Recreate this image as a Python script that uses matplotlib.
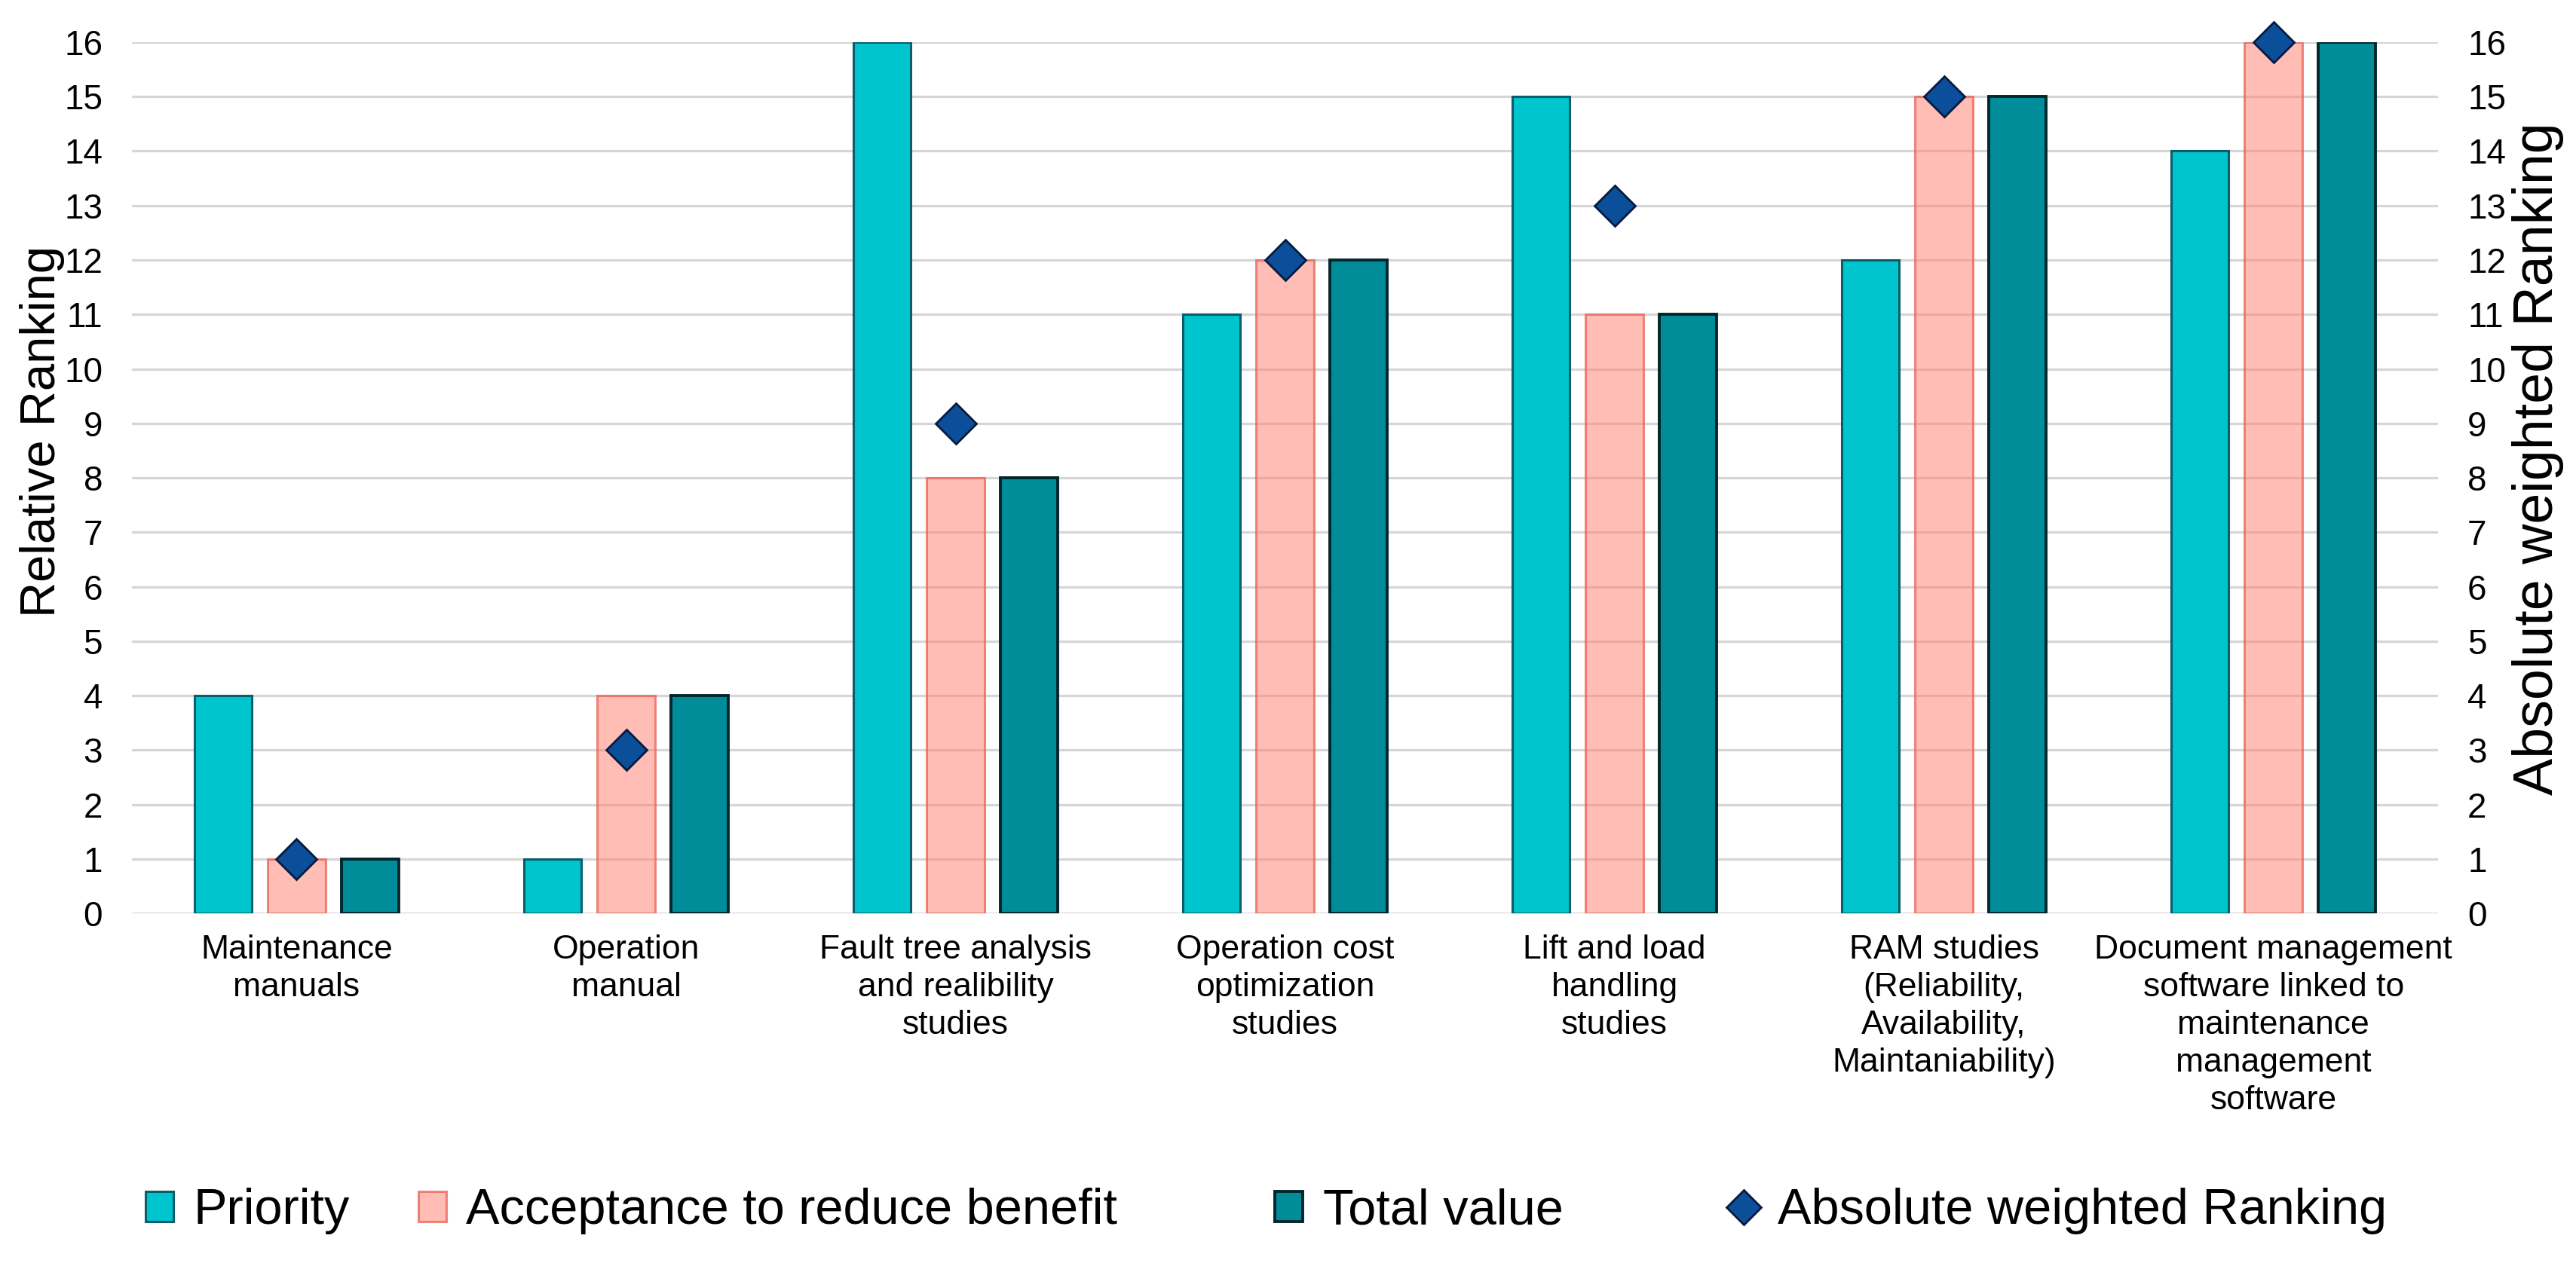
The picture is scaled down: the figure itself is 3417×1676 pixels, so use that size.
import matplotlib
matplotlib.use('Agg')
import matplotlib.pyplot as plt
import numpy as np

plt.rcParams['font.family'] = ['Liberation Sans', 'DejaVu Sans']

categorias = ['Maintenance\nmanuals',
              'Operation\nmanual',
              'Fault tree analysis\nand realibility\nstudies',
              'Operation cost\noptimization\nstudies',
              'Lift and load\nhandling\nstudies',
              'RAM studies\n(Reliability,\nAvailability,\nMaintaniability)',
              'Document management\nsoftware linked to\nmaintenance\nmanagement\nsoftware']

priority = [4, 1, 16, 11, 15, 12, 14]
acceptance = [1, 4, 8, 12, 11, 15, 16]
total_value = [1, 4, 8, 12, 11, 15, 16]
absolute_ranking = [1, 3, 9, 12, 13, 15, 16]

niveles = list(range(0, 17))

x = np.arange(len(categorias))
ancho = 0.175
paso = 0.223

fig = plt.figure(figsize=(34.17, 16.76), dpi=100)
ax = fig.add_axes([0.0512, 0.2768, 0.8953, 0.6898])

ax.set_axisbelow(True)
ax.yaxis.grid(True, color='#d6d6d6', linewidth=2.3)

b1 = ax.bar(x - paso, priority, ancho, color='#00c4ce',
            edgecolor='#0a5e6a', linewidth=2.2, label='Priority')
b2 = ax.bar(x, acceptance, ancho, facecolor=(1.0, 0.49, 0.43, 0.5),
            edgecolor=(0.92, 0.38, 0.33, 0.75), linewidth=2.2,
            label='Acceptance to reduce benefit')
b3 = ax.bar(x + paso, total_value, ancho, color='#008c98',
            edgecolor='#02262c', linewidth=2.8, label='Total value')

ax.set_xlim(-0.5, len(categorias) - 0.5)
ax.set_ylim(0, 16)
ax.set_yticks(niveles)
ax.set_xticks(x)
ax.set_xticklabels(categorias, fontsize=32, linespacing=1.28)
ax.tick_params(axis='x', length=0, pad=20)
ax.tick_params(axis='y', length=0, pad=28, labelsize=33)
for s in ax.spines.values():
    s.set_visible(False)
ax.set_ylabel('Relative Ranking', fontsize=47)
ax.yaxis.set_label_coords(-0.029, 0.553)

ax2 = ax.twinx()
ax2.set_ylim(0, 16)
ax2.set_yticks(niveles)
ax2.tick_params(axis='y', length=0, pad=28, labelsize=33)
for s in ax2.spines.values():
    s.set_visible(False)
d = ax2.plot(x, absolute_ranking, linestyle='none', marker='D', markersize=27,
             markerfacecolor='#0b4f9a', markeredgecolor='#061a3e',
             markeredgewidth=2, clip_on=False, label='Absolute weighted Ranking')
ax2.set_ylabel('Absolute weighted Ranking', fontsize=53)
ax2.yaxis.set_label_coords(1.032, 0.522)

# leyenda: una entrada por bloque, como en el original
entradas = [(b1, 'Priority', 0.0565),
            (b2, 'Acceptance to reduce benefit', 0.1624),
            (b3, 'Total value', 0.4950),
            (d[0], 'Absolute weighted Ranking', 0.6716)]
for h, texto, xpos in entradas:
    fig.legend([h], [texto], loc='center left', bbox_to_anchor=(xpos, 0.041),
               frameon=False, fontsize=48, borderpad=0, borderaxespad=0,
               handlelength=0.55, handleheight=0.55, handletextpad=0.4,
               markerscale=0.85)

fig.savefig('out.png', dpi=100)
